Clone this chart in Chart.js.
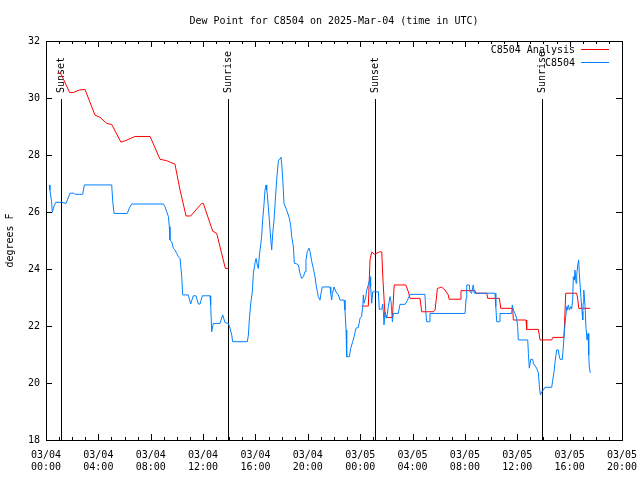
<!DOCTYPE html>
<html>
<head>
<meta charset="utf-8">
<script src="https://cdn.jsdelivr.net/npm/chart.js@4.4.1/dist/chart.umd.min.js"></script>
<style>
  html, body { margin: 0; padding: 0; background: #fff; }
  #chart { display: block; }
</style>
</head>
<body>
<canvas id="chart" width="640" height="480"></canvas>
<script>
const chartTitle = "Dew Point for C8504 on 2025-Mar-04 (time in UTC)";
const yTitle = "degrees F";
const seriesNames = ["C8504 Analysis", "C8504"];
const seriesColors = ["#ff0000", "#0080ff"];

// x = hours since 03/04 00:00 UTC
const xTickDays = ["03/04", "03/04", "03/04", "03/04", "03/04", "03/04", "03/05", "03/05", "03/05", "03/05", "03/05", "03/05"];
const xTickTimes = ["00:00", "04:00", "08:00", "12:00", "16:00", "20:00", "00:00", "04:00", "08:00", "12:00", "16:00", "20:00"];
const yTicks = [18, 20, 22, 24, 26, 28, 30, 32];

const eventHours = [1.17, 13.94, 25.17, 37.91];
const eventLabels = ["Sunset", "Sunrise", "Sunset", "Sunrise"];

const analysisHours = [0.87, 1.12, 1.81, 2.09, 2.54, 2.98, 3.74, 4.13, 4.64, 5.02, 5.73, 6.04, 6.8, 7.95, 8.71, 9.22, 9.85, 10.24, 10.7, 11.05, 11.89, 12.02, 12.73, 13.04, 13.7, 13.95,
  19,
  24.12, 24.62, 24.75, 24.88, 25.1, 25.47, 25.65, 25.69, 25.75, 25.9, 26.07, 26.46, 26.6, 27.48, 27.68, 27.81, 28.57, 28.7, 29.59, 29.72, 29.9, 30.23, 30.48, 30.73, 30.79, 31.63, 31.7, 32.77, 32.85, 33.67, 33.74, 34.63, 34.74, 35.65, 35.7, 36.67, 36.72, 37.61, 37.74, 38.63, 38.71, 39.57, 39.7, 40.54, 40.62, 40.7, 41.56];
const analysisValues = [30.87, 30.87, 30.19, 30.19, 30.28, 30.3, 29.4, 29.32, 29.11, 29.07, 28.45, 28.5, 28.65, 28.65, 27.85, 27.8, 27.68, 26.77, 25.86, 25.86, 26.3, 26.3, 25.33, 25.25, 24.02, 24.02,
  null,
  22.7, 22.7, 24.32, 24.59, 24.52, 24.6, 24.6, 24.14, 23.55, 22.33, 22.3, 22.3, 23.44, 23.44, 23.2, 22.97, 22.97, 22.5, 22.5, 22.56, 23.32, 23.36, 23.26, 23.09, 22.94, 22.94, 23.24, 23.24, 23.15, 23.15, 22.97, 22.97, 22.62, 22.62, 22.21, 22.21, 21.88, 21.88, 21.51, 21.51, 21.6, 21.6, 23.15, 23.15, 22.94, 22.62, 22.62];

const stationHours = [0.25, 0.3, 0.43, 0.48, 0.61, 0.76, 1.2, 1.53, 1.83, 2.14, 2.22, 2.8, 2.93, 5.02, 5.1, 5.2, 6.21, 6.36, 6.54, 8.96, 9.09, 9.22, 9.35, 9.42, 9.47, 9.6, 9.73, 9.85, 9.98, 10.11, 10.24, 10.37, 10.44, 10.87, 11.05, 11.25, 11.46, 11.64, 11.77, 11.94, 12.53, 12.58, 12.66, 12.78, 13.29, 13.5, 13.67, 13.93, 14.06, 14.19, 14.26,
  15.38, 15.46, 15.53, 15.64, 15.76, 15.84, 15.97, 16.05, 16.14, 16.22, 16.3, 16.4, 16.48, 16.55, 16.65, 16.73, 16.81, 16.86, 16.91, 17.06, 17.17, 17.24, 17.32, 17.42, 17.5, 17.62, 17.75, 17.88, 17.95, 18.01, 18.09, 18.18, 18.33, 18.43, 18.59, 18.69, 18.77, 18.9, 18.97, 19.15, 19.28, 19.4, 19.53, 19.66, 19.79, 19.86, 19.96, 20.09, 20.17, 20.3, 20.42, 20.55, 20.63, 20.73, 20.8, 20.93, 21.01, 21.11, 21.7, 21.75, 21.82, 21.88, 22.0, 22.15, 22.33, 22.46, 22.77, 22.84, 22.92, 22.97, 23.17, 23.28, 23.43, 23.53, 23.68, 23.86, 23.99,
  24.1, 24.2, 24.24, 24.3, 24.43, 24.5, 24.58, 24.68, 24.75, 24.8, 24.88, 24.96, 25.39, 25.46, 25.65, 25.72, 25.77, 25.82, 25.9, 26.03, 26.15, 26.28, 26.36, 26.46, 26.53, 26.91, 27.04, 27.43, 27.55, 27.68, 27.81, 28.95, 29.01, 29.08, 29.26, 29.33, 32.01, 32.09, 32.14, 32.34, 32.39, 32.51, 32.64, 32.72,
  34.3, 34.36, 34.43, 34.63, 34.68, 35.57, 35.62, 35.7, 35.83, 35.95, 36.03, 36.08, 36.8, 36.85, 36.92, 37.03, 37.18, 37.23, 37.36, 37.48, 37.61, 37.69, 37.77, 37.87, 37.99, 38.12, 38.63, 38.71, 38.81, 38.89, 39.01, 39.14, 39.19, 39.27, 39.44, 39.52, 39.6, 39.7, 39.78, 39.83, 39.9, 39.98, 40.08, 40.15, 40.23, 40.28, 40.36, 40.41, 40.49, 40.54, 40.62, 40.69, 40.74, 40.8, 40.87, 40.95, 41.0, 41.03, 41.08, 41.18, 41.25, 41.33, 41.41, 41.46, 41.5, 41.58];
const stationValues = [26.95, 26.77, 26.36, 25.99, 26.21, 26.34, 26.34, 26.3, 26.66, 26.66, 26.62, 26.62, 26.95, 26.95, 26.36, 25.95, 25.95, 26.13, 26.28, 26.28, 26.19, 26.01, 25.84, 25.49, 25.02, 24.96, 24.73, 24.67, 24.55, 24.43, 24.37, 23.73, 23.09, 23.09, 22.77, 23.06, 23.06, 22.77, 22.77, 23.06, 23.06, 22.74, 21.8, 22.09, 22.09, 22.39, 22.12, 22.09, 21.92, 21.68, 21.45,
  21.45, 21.68, 22.21, 22.8, 23.2, 23.85, 24.22, 24.37, 24.14, 24.02, 24.49, 24.84, 25.19, 25.72, 26.25, 26.77, 26.95, 26.77, 26.6, 25.72, 25.02, 24.67, 25.25, 25.72, 26.3, 27.12, 27.8, 27.88, 27.92, 27.65, 27.12, 26.3, 26.13, 26.01, 25.78, 25.54, 25.13, 24.78, 24.2, 24.18, 24.14, 23.85, 23.67, 23.73, 23.91, 24.32, 24.61, 24.73, 24.61, 24.26, 24.02, 23.73, 23.44, 23.2, 23.03, 22.91, 23.15, 23.37, 23.37, 23.15, 22.91, 23.15, 23.37, 23.2, 23.09, 22.91, 22.91, 22.56, 21.86, 20.92, 20.92, 21.22, 21.45, 21.62, 21.92, 21.95, 22.27,
  22.33, 22.68, 23.09, 22.8, 23.03, 23.26, 23.38, 23.55, 23.73, 23.38, 22.8, 23.2, 23.2, 22.59, 22.59, 22.77, 22.5, 22.04, 22.5, 22.27, 22.68, 23.03, 22.85, 22.15, 22.44, 22.44, 22.76, 22.76, 22.85, 22.97, 23.11, 23.11, 22.5, 22.15, 22.15, 22.44, 22.44, 22.97, 23.44, 23.44, 23.2, 23.15, 23.44, 23.15,
  23.15, 22.68, 22.15, 22.15, 22.44, 22.44, 22.74, 22.56, 22.44, 22.27, 21.98, 21.51, 21.51, 21.04, 20.52, 20.83, 20.83, 20.69, 20.6, 20.52, 20.36, 19.87, 19.58, 19.69, 19.75, 19.85, 19.85, 20.1, 20.4, 20.75, 21.16, 21.16, 20.98, 20.83, 20.83, 21.27, 21.8, 22.33, 22.68, 22.56, 22.74, 22.56, 22.68, 22.59, 22.91, 23.73, 23.61, 23.96, 23.5, 23.79, 24.14, 24.32, 23.85, 23.44, 22.97, 22.5, 22.21, 22.8, 23.26, 22.68, 21.92, 21.51, 21.74, 20.98, 20.57, 20.36];

const toPoints = (hours, values) => hours.map((h, i) => ({ x: h, y: values[i] }));

Chart.defaults.font.family = "'DejaVu Sans Mono', monospace";
Chart.defaults.font.size = 10;
Chart.defaults.color = "#000";

// gnuplot-like frame, inward ticks, sun lines and an inside legend
const gnuplotBits = {
  id: "gnuplotBits",
  beforeDatasetsDraw(chart) {
    const { ctx, chartArea, scales } = chart;
    ctx.save();
    ctx.strokeStyle = "#000";
    ctx.lineWidth = 1;
    ctx.fillStyle = "#000";
    ctx.font = "10px 'DejaVu Sans Mono', monospace";
    eventHours.forEach((h, i) => {
      const px = Math.round(scales.x.getPixelForValue(h)) + 0.5;
      ctx.beginPath();
      ctx.moveTo(px, chartArea.top + 58);
      ctx.lineTo(px, chartArea.bottom);
      ctx.stroke();
      ctx.save();
      ctx.translate(px, chartArea.top + 52);
      ctx.rotate(-Math.PI / 2);
      ctx.textAlign = "left";
      ctx.textBaseline = "middle";
      ctx.fillText(eventLabels[i], 0, 0);
      ctx.restore();
    });
    ctx.restore();
  },
  afterDatasetsDraw(chart) {
    const { ctx, chartArea, scales } = chart;
    const { left, right, top, bottom } = chartArea;
    ctx.save();
    ctx.strokeStyle = "#000";
    ctx.lineWidth = 1;
    ctx.strokeRect(Math.round(left) + 0.5, Math.round(top) + 0.5, Math.round(right - left), Math.round(bottom - top));

    ctx.beginPath();
    for (let h = scales.x.min; h <= scales.x.max; h++) {
      const px = Math.round(scales.x.getPixelForValue(h)) + 0.5;
      const len = h % 4 === 0 ? 6 : 3;
      ctx.moveTo(px, bottom);
      ctx.lineTo(px, bottom - len);
      ctx.moveTo(px, top);
      ctx.lineTo(px, top + len);
    }
    yTicks.forEach(v => {
      const py = Math.round(scales.y.getPixelForValue(v)) + 0.5;
      ctx.moveTo(left, py);
      ctx.lineTo(left + 6, py);
      ctx.moveTo(right, py);
      ctx.lineTo(right - 6, py);
    });
    ctx.stroke();

    ctx.font = "10px 'DejaVu Sans Mono', monospace";
    ctx.textAlign = "right";
    ctx.textBaseline = "middle";
    chart.data.datasets.forEach((ds, i) => {
      const y = top + 8 + i * 13;
      ctx.fillStyle = "#000";
      ctx.fillText(ds.label, right - 47, y + 1);
      ctx.strokeStyle = ds.borderColor;
      ctx.beginPath();
      ctx.moveTo(right - 41, y + 0.5);
      ctx.lineTo(right - 13, y + 0.5);
      ctx.stroke();
    });
    ctx.restore();
  }
};

new Chart(document.getElementById("chart"), {
  type: "line",
  data: {
    datasets: [
      {
        label: seriesNames[0],
        data: toPoints(analysisHours, analysisValues),
        borderColor: seriesColors[0],
        borderWidth: 1,
        pointRadius: 0,
        tension: 0,
        spanGaps: false,
        order: 2
      },
      {
        label: seriesNames[1],
        data: toPoints(stationHours, stationValues),
        borderColor: seriesColors[1],
        borderWidth: 1,
        pointRadius: 0,
        tension: 0,
        spanGaps: false,
        order: 1
      }
    ]
  },
  options: {
    responsive: false,
    animation: false,
    devicePixelRatio: 1,
    layout: { padding: { left: 0, right: 18, top: 0, bottom: 0 } },
    plugins: {
      legend: { display: false },
      tooltip: { enabled: false },
      title: {
        display: true,
        fullSize: false,
        text: chartTitle,
        color: "#000",
        font: { family: "'DejaVu Sans Mono', monospace", size: 10, weight: "normal" },
        padding: { top: 15, bottom: 14 }
      }
    },
    scales: {
      x: {
        type: "linear",
        min: 0,
        max: 44,
        grid: { display: false, drawTicks: false },
        border: { display: false },
        ticks: {
          stepSize: 4,
          autoSkip: false,
          maxRotation: 0,
          padding: 9,
          color: "#000",
          callback: value => [xTickDays[value / 4], xTickTimes[value / 4]]
        },
        afterFit: scale => {
          scale.height = 40;
          scale.paddingLeft = 0;
          scale.paddingRight = 0;
        }
      },
      y: {
        min: 18,
        max: 32,
        grid: { display: false, drawTicks: false },
        border: { display: false },
        ticks: { stepSize: 2, padding: 6, color: "#000" },
        title: {
          display: true,
          text: yTitle,
          color: "#000",
          font: { family: "'DejaVu Sans Mono', monospace", size: 10 },
          padding: { top: 4, bottom: 0 }
        },
        afterFit: scale => {
          scale.width = 46;
          scale.paddingTop = 0;
          scale.paddingBottom = 0;
        }
      }
    }
  },
  plugins: [gnuplotBits]
});
</script>
</body>
</html>
